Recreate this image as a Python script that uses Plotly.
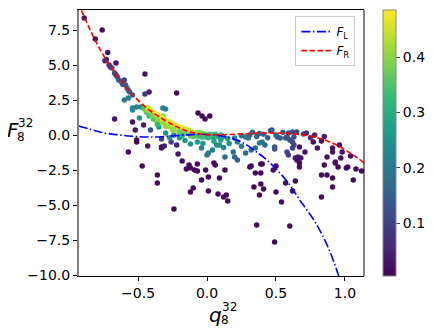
import plotly.graph_objects as go

# scattered samples, (q, F, colour value)
# outliers (dark purple)
out_q = [-0.89, -0.76, -0.81, -0.72, -0.73, -0.66, -0.70, -0.45, -0.42, -0.45,
         -0.22, -0.065, -0.036, -0.014, 0.02, -0.67, -0.54, -0.52, -0.46, -0.51,
         -0.51, -0.57, -0.43, -0.33, -0.33, -0.31, -0.47, -0.36, -0.36, -0.21,
         -0.24, -0.12, -0.10, 0.01, 0.08, -0.04, -0.18, -0.15, -0.13, -0.09,
         -0.07, -0.07, -0.01, 0.01, 0.05, 0.06, 0.09, 0.12, 0.14, 0.15,
         0.34, 0.39, 0.41, 0.38, 0.50, 0.54, 0.36, 0.49, 0.60, 0.62,
         0.57, 0.64, 0.83, 0.91, 1.06, 0.31, 0.32, 0.35, 0.39, 0.40,
         0.39, 0.48, 0.50, 0.67, 0.65, 0.85, 0.87, 0.83, 0.91, 0.93,
         0.95, 1.02, 1.08, 1.12, 0.67, 0.71, 0.64, 0.66, 0.68, 0.67,
         0.77, 0.80, 0.83, 0.91, 0.91, 0.87, 0.98, 0.96, 0.97, 0.93,
         1.01, 1.04, 0.13, -0.12, -0.22, -0.26, -0.33, -0.41]
out_F = [8.36, 7.50, 6.86, 5.90, 5.40, 5.14, 4.86, 4.36, 3.07, 2.93,
         3.00, 1.57, 1.36, 1.14, 1.36, 1.14, 0.93, 0.36, 0.71, -0.36,
         -0.50, -1.21, -0.79, -0.86, -0.93, -0.79, -2.21, -2.86, -3.43, -1.36,
         -5.29, -4.07, -3.79, -4.00, -4.21, -3.21, -1.86, -2.43, -2.14, -2.50,
         -2.57, -2.07, -2.50, -3.00, -2.00, -2.14, -3.07, -4.43, -4.29, -4.71,
         -3.71, -3.50, -3.86, -4.29, -4.07, -4.79, -6.43, -7.64, -6.50, -4.00,
         -3.43, -3.29, -4.43, -3.71, -3.21, -2.29, -2.21, -2.71, -2.71, -2.07,
         -2.07, -2.50, -2.21, -2.29, -1.79, -2.14, -2.86, -2.86, -3.07, -2.00,
         -2.29, -2.29, -2.43, -2.57, -0.86, -1.21, -1.64, -1.57, -1.64, -2.00,
         -0.50, -0.93, -0.43, -0.93, -1.21, -1.57, -1.21, -0.71, -1.64, -1.93,
         -2.36, -1.50, -2.50, -2.36, -0.71, -0.50, -0.29, 0.36]
out_c = [0.03, 0.02, 0.03, 0.03, 0.04, 0.03, 0.06, 0.03, 0.04, 0.08,
         0.02, 0.02, 0.02, 0.02, 0.02, 0.03, 0.03, 0.03, 0.04, 0.02,
         0.02, 0.02, 0.03, 0.03, 0.03, 0.04, 0.02, 0.02, 0.02, 0.03,
         0.02, 0.02, 0.02, 0.02, 0.02, 0.02, 0.02, 0.02, 0.02, 0.02,
         0.02, 0.02, 0.02, 0.02, 0.02, 0.02, 0.02, 0.02, 0.02, 0.02,
         0.02, 0.02, 0.02, 0.02, 0.02, 0.02, 0.02, 0.02, 0.02, 0.02,
         0.02, 0.02, 0.02, 0.02, 0.02, 0.02, 0.02, 0.02, 0.02, 0.02,
         0.02, 0.02, 0.02, 0.02, 0.03, 0.02, 0.02, 0.02, 0.02, 0.02,
         0.02, 0.02, 0.02, 0.02, 0.03, 0.03, 0.03, 0.03, 0.03, 0.02,
         0.03, 0.03, 0.03, 0.03, 0.03, 0.03, 0.03, 0.03, 0.03, 0.03,
         0.02, 0.03, 0.02, 0.02, 0.05, 0.10, 0.10, 0.12]

# points along the right-hand branch and the upper band
band_q = [-0.69, -0.67, -0.65, -0.64, -0.62, -0.60, -0.59, -0.58, -0.56, -0.54,
          -0.57, -0.61, -0.66, -0.71, -0.74, -0.60, -0.57, -0.54, -0.54, -0.51,
          -0.48, -0.44, -0.49, -0.41, -0.37, -0.35, -0.30, -0.30, -0.24, -0.32]
band_F = [4.79, 4.43, 4.14, 3.93, 3.79, 3.93, 3.57, 3.36, 3.07, 2.86,
          3.20, 3.60, 4.30, 5.00, 5.30, 2.50, 2.64, 1.93, 1.79, 2.00,
          2.00, 1.64, 1.21, 1.43, 1.07, 0.57, 1.86, 0.14, 0.00, 1.93]
band_c = [0.12, 0.12, 0.13, 0.14, 0.14, 0.10, 0.15, 0.16, 0.17, 0.18,
          0.15, 0.13, 0.10, 0.08, 0.06, 0.20, 0.20, 0.22, 0.23, 0.22,
          0.24, 0.32, 0.25, 0.35, 0.38, 0.27, 0.22, 0.25, 0.22, 0.22]

# yellow / green ridge around q = -0.45 .. 0.1
ridge_q = [-0.46, -0.44, -0.42, -0.40, -0.38, -0.37, -0.35, -0.34, -0.33, -0.31,
           -0.30, -0.29, -0.28, -0.27, -0.26, -0.25, -0.24, -0.23, -0.22, -0.21,
           -0.20, -0.19, -0.18, -0.17, -0.16, -0.15, -0.14, -0.13, -0.12, -0.11,
           -0.10, -0.09, -0.36, -0.32, -0.28, -0.25, -0.30, -0.22, -0.18, -0.15,
           -0.20, -0.39, -0.42, -0.36,
           -0.08, -0.07, -0.06, -0.05, -0.04, -0.03, -0.02, -0.01, 0.00, 0.01,
           0.02, 0.03, 0.04, 0.05, 0.06, 0.08, 0.10, 0.12, -0.10, -0.12,
           -0.43, -0.41, -0.39, -0.37, -0.35, -0.33, -0.31, -0.29, -0.27, -0.25,
           -0.23, -0.21, -0.19, -0.17, -0.15, -0.13, -0.11, -0.07, -0.05, -0.03,
           -0.40, -0.36, -0.32, -0.28, -0.24, -0.20, -0.16, -0.12, -0.08, -0.04,
           0.00]
ridge_F = [1.90, 1.75, 1.70, 1.55, 1.40, 1.30, 1.20, 1.10, 1.00, 0.95,
           0.85, 0.80, 0.70, 0.65, 0.60, 0.55, 0.50, 0.45, 0.40, 0.38,
           0.33, 0.30, 0.28, 0.25, 0.22, 0.20, 0.18, 0.15, 0.12, 0.12,
           0.08, 0.05, 0.90, 1.35, 0.95, 0.35, 0.60, 0.65, 0.50, 0.40,
           0.15, 1.15, 1.35, 0.75,
           0.10, -0.05, 0.15, -0.10, 0.05, -0.15, 0.05, -0.10, 0.00, -0.20,
           0.05, -0.10, 0.00, -0.20, 0.05, -0.10, 0.00, -0.10, -0.10, -0.05,
           1.95, 1.80, 1.62, 1.50, 1.35, 1.28, 1.12, 1.00, 0.90, 0.80,
           0.70, 0.60, 0.52, 0.45, 0.38, 0.32, 0.25, 0.18, 0.14, 0.10,
           1.40, 1.10, 0.85, 0.60, 0.40, 0.25, 0.12, 0.02, -0.05, -0.12,
           -0.15]
ridge_c = [0.36, 0.38, 0.40, 0.42, 0.43, 0.44, 0.45, 0.46, 0.47, 0.48,
           0.47, 0.48, 0.46, 0.48, 0.47, 0.48, 0.45, 0.48, 0.46, 0.48,
           0.47, 0.44, 0.48, 0.46, 0.45, 0.47, 0.42, 0.44, 0.40, 0.42,
           0.38, 0.40, 0.40, 0.38, 0.42, 0.40, 0.41, 0.44, 0.43, 0.42,
           0.38, 0.36, 0.34, 0.33,
           0.36, 0.34, 0.37, 0.33, 0.35, 0.32, 0.36, 0.33, 0.35, 0.31,
           0.34, 0.32, 0.33, 0.30, 0.32, 0.30, 0.30, 0.28, 0.36, 0.38,
           0.45, 0.46, 0.47, 0.48, 0.47, 0.48, 0.48, 0.47, 0.48, 0.48,
           0.47, 0.48, 0.48, 0.46, 0.47, 0.45, 0.44, 0.42, 0.40, 0.38,
           0.38, 0.40, 0.41, 0.42, 0.40, 0.38, 0.37, 0.36, 0.35, 0.33,
           0.32]

# teal cloud below the ridge and blue points along F ~ 0 on the right
low_q = [-0.12, -0.07, -0.04, 0.00, 0.01, 0.04, 0.07, 0.09, 0.13, 0.19,
         0.20, 0.22, 0.28, 0.32, 0.35, 0.38, 0.40, 0.42, 0.20, 0.22,
         0.28, 0.30, -0.16, -0.20, 0.05, 0.10, 0.15, 0.16, -0.03, 0.12,
         0.25, -0.18, -0.27,
         0.25, 0.31, 0.36, 0.41, 0.46, 0.47, 0.50, 0.51, 0.53, 0.57,
         0.58, 0.59, 0.60, 0.62, 0.63, 0.62, 0.65, 0.70, 0.72, 0.49,
         0.49, 0.58, 0.59, 0.63, 0.62, 0.55, 0.44, 0.38, 0.33, 0.78,
         0.85, 0.75]
low_F = [-0.64, -0.50, -0.93, -1.43, -1.29, -1.07, -0.71, -0.71, -1.57, -1.21,
         -1.57, -1.79, -1.29, -1.07, -0.93, -0.57, -0.50, -0.71, -0.21, -0.50,
         -0.14, -0.21, -0.40, -0.20, -0.45, -0.35, -0.25, -0.60, -0.60, -0.90,
         -0.80, -0.05, -0.20,
         -0.05, 0.00, -0.10, 0.05, 0.30, 0.36, 0.00, -0.14, -0.21, -0.21,
         -0.14, 0.14, -0.36, -0.50, -0.14, 0.21, 0.21, 0.07, 0.15, -0.86,
         -1.00, -1.21, -1.43, -0.71, -0.93, 0.20, -0.20, 0.10, 0.20, 0.00,
         -0.10, -0.20]
low_c = [0.26, 0.27, 0.22, 0.20, 0.21, 0.22, 0.24, 0.25, 0.18, 0.18,
         0.16, 0.15, 0.17, 0.18, 0.18, 0.20, 0.20, 0.18, 0.22, 0.22,
         0.20, 0.21, 0.26, 0.25, 0.28, 0.27, 0.25, 0.24, 0.26, 0.22,
         0.20, 0.30, 0.24,
         0.18, 0.17, 0.16, 0.16, 0.14, 0.14, 0.15, 0.15, 0.14, 0.13,
         0.13, 0.13, 0.12, 0.12, 0.12, 0.12, 0.11, 0.10, 0.08, 0.14,
         0.13, 0.11, 0.10, 0.10, 0.10, 0.14, 0.16, 0.17, 0.16, 0.06,
         0.05, 0.07]

# the two model curves
fl_q = [-0.93, -0.85, -0.775, -0.66, -0.54, -0.44, -0.33, -0.23, -0.11, 0.0,
        0.13, 0.25, 0.37, 0.435, 0.572, 0.688, 0.783, 0.877, 0.955]
fl_F = [0.64, 0.42, 0.21, 0.03, -0.09, -0.14, -0.12, -0.05, 0.03, 0.04,
        -0.12, -0.50, -1.29, -1.79, -3.21, -4.86, -6.21, -8.00, -10.07]
fr_q = [-0.91, -0.83, -0.76, -0.69, -0.62, -0.55, -0.44, -0.33, -0.20, -0.09,
        0.0, 0.10, 0.25, 0.45, 0.60, 0.70, 0.82, 0.94, 1.06, 1.14]
fr_F = [8.90, 7.15, 5.85, 4.79, 3.85, 3.00, 1.95, 1.20, 0.50, 0.15,
        0.03, 0.02, 0.08, 0.15, 0.10, 0.00, -0.25, -0.71, -1.43, -2.00]

all_q = out_q + band_q + ridge_q + low_q
all_F = out_F + band_F + ridge_F + low_F
all_c = out_c + band_c + ridge_c + low_c

FONT = "DejaVu Sans"

fig = go.Figure()
fig.add_trace(go.Scatter(
    x=all_q, y=all_F, mode="markers", showlegend=False,
    marker=dict(
        size=5.5, color=all_c, colorscale="Viridis", cmin=0.005, cmax=0.485,
        line=dict(width=0),
        colorbar=dict(
            x=1.0675, xanchor="left", y=0.5, len=1, thickness=13,
            tickvals=[0.1, 0.2, 0.3, 0.4], ticks="outside", ticklen=4,
            tickfont=dict(size=14, color="black"),
            outlinecolor="#888", outlinewidth=1, ypad=0, xpad=0,
        ),
    ),
))
fig.add_trace(go.Scatter(
    x=fl_q, y=fl_F, mode="lines", name="<i>F</i><sub>L</sub>",
    line=dict(color="blue", width=1.6, dash="9px,2.5px,1.5px,2.5px", shape="spline"),
))
fig.add_trace(go.Scatter(
    x=fr_q, y=fr_F, mode="lines", name="<i>F</i><sub>R</sub>",
    line=dict(color="red", width=1.6, dash="5.5px,2.5px", shape="spline"),
))

# axis labels built from pieces so sub- and superscripts stack
labels = [
    ("<i>F</i>", -0.233, 0.548, 20),
    ("32", -0.188, 0.575, 12),
    ("8", -0.203, 0.521, 12),
    ("<i>q</i>", 0.48, -0.145, 20),
    ("32", 0.528, -0.117, 12),
    ("8", 0.513, -0.165, 12),
]
for text, x, y, size in labels:
    fig.add_annotation(text=text, x=x, y=y, xref="paper", yref="paper",
                       showarrow=False, xanchor="center", yanchor="middle",
                       font=dict(size=size, color="black", family=FONT))

# right spine
fig.add_shape(type="line", xref="paper", yref="paper", x0=1, x1=1, y0=0, y1=1,
              line=dict(color="black", width=1))

# the page keeps an 8px body margin, so the figure is 8px smaller each way
fig.update_layout(
    width=425, height=325,
    margin=dict(l=71, r=69, t=2, b=57),
    plot_bgcolor="white", paper_bgcolor="white",
    font=dict(family=FONT, size=14, color="black"),
    xaxis=dict(
        range=[-0.928, 1.138], tickvals=[-0.5, 0.0, 0.5, 1.0],
        tickformat=".1f", showgrid=False, zeroline=False,
        showline=True, linecolor="black", linewidth=1, mirror=True,
        ticks="outside", ticklen=4, tickcolor="black",
    ),
    yaxis=dict(
        range=[-10.07, 8.93], tickvals=[-10, -7.5, -5, -2.5, 0, 2.5, 5, 7.5],
        tickformat=".1f", showgrid=False, zeroline=False,
        showline=True, linecolor="#808080", linewidth=2,
        ticks="outside", ticklen=4, tickcolor="black",
    ),
    legend=dict(
        x=0.97, y=0.977, xanchor="right", yanchor="top",
        bgcolor="white", bordercolor="#cccccc", borderwidth=1,
        font=dict(size=12), itemwidth=30, tracegroupgap=0,
    ),
)

fig.write_html("out.html")
